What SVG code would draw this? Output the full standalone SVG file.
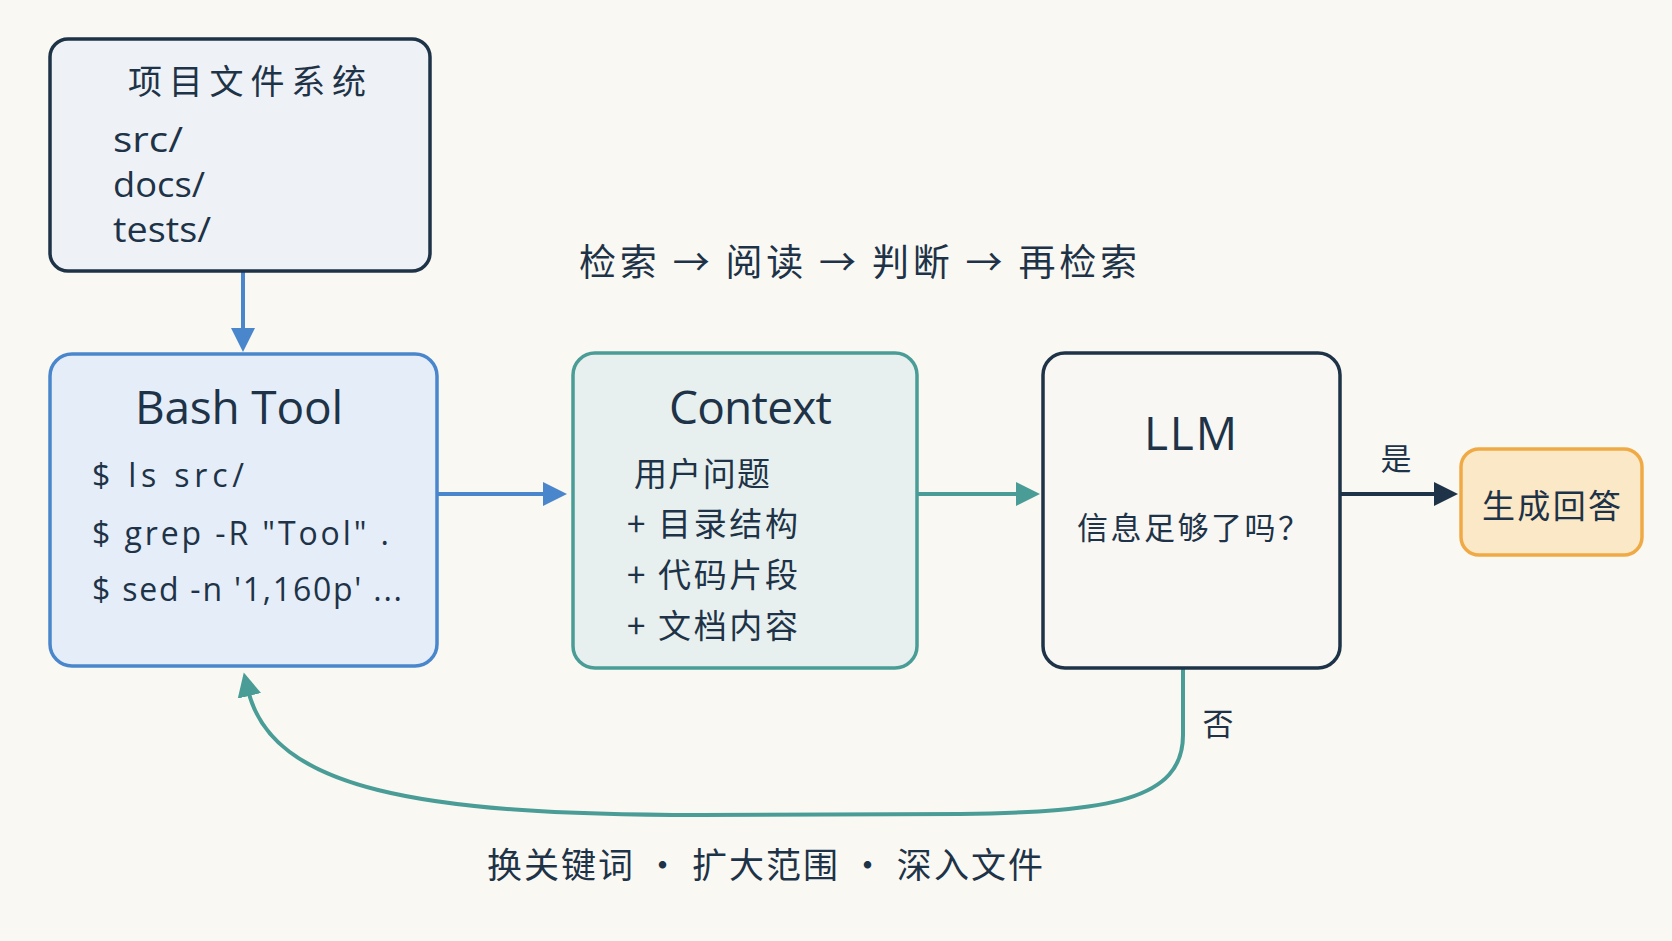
<svg xmlns="http://www.w3.org/2000/svg" width="1672" height="941" viewBox="0 0 1672 941">
<defs>
<style>
.t{fill:#1e3347;font-family:"Open Sans","Noto Sans","Noto Sans CJK SC",sans-serif}
.c{fill:#1e3347;font-family:"Noto Sans CJK SC","Noto Sans",sans-serif;font-weight:400}
.box{stroke-width:3.5}
.ln{fill:none;stroke-width:4}
</style>
<marker id="aBlue" markerUnits="userSpaceOnUse" markerWidth="26" markerHeight="26" refX="6" refY="12" orient="auto"><path d="M0,0 L24,12 L0,24 z" fill="#4a86cc"/></marker>
<marker id="aTeal" markerUnits="userSpaceOnUse" markerWidth="26" markerHeight="26" refX="6" refY="12" orient="auto"><path d="M0,0 L24,12 L0,24 z" fill="#4a9c96"/></marker>
<marker id="aNavy" markerUnits="userSpaceOnUse" markerWidth="26" markerHeight="26" refX="6" refY="12" orient="auto"><path d="M0,0 L24,12 L0,24 z" fill="#1e3347"/></marker>
</defs>
<rect width="1672" height="941" fill="#faf8f3"/>

<g id="connectors">
<line class="ln" x1="243" y1="271" x2="243" y2="334" stroke="#4a86cc" marker-end="url(#aBlue)"/>
<line class="ln" x1="437" y1="494" x2="549" y2="494" stroke="#4a86cc" marker-end="url(#aBlue)"/>
<line class="ln" x1="917" y1="494" x2="1022" y2="494" stroke="#4a9c96" marker-end="url(#aTeal)"/>
<line class="ln" x1="1340" y1="494" x2="1440" y2="494" stroke="#1e3347" marker-end="url(#aNavy)"/>
<path class="ln" d="M1183 668 V735 C1183 800 1110 812 960 814 L700 815 C420 815 272 790 248 690" stroke="#4a9c96" marker-end="url(#aTeal)"/>
<text class="c" x="1396" y="470" font-size="31" text-anchor="middle">是</text>
<text class="c" x="1218" y="735" font-size="31" text-anchor="middle">否</text>
</g>

<g id="label-top">
<text class="c" x="579" y="276" font-size="37" textLength="558" lengthAdjust="spacing">检索 → 阅读 → 判断 → 再检索</text>
</g>
<g id="label-bottom">
<text class="c" x="487" y="878" font-size="35" textLength="556" lengthAdjust="spacing">换关键词 · 扩大范围 · 深入文件</text>
</g>

<g id="node-fs">
<rect class="box" x="50" y="39" width="380" height="232" rx="18" fill="#eef2f6" stroke="#1e3347"/>
<text class="c" x="128" y="94" font-size="34" textLength="238" lengthAdjust="spacing">项目文件系统</text>
<text class="t" x="113" y="152" font-size="35" textLength="70" lengthAdjust="spacingAndGlyphs">src/</text>
<text class="t" x="113" y="197" font-size="35" textLength="92" lengthAdjust="spacingAndGlyphs">docs/</text>
<text class="t" x="113" y="242" font-size="35" textLength="98" lengthAdjust="spacingAndGlyphs">tests/</text>
</g>

<g id="node-bash">
<rect class="box" x="50" y="354" width="387" height="312" rx="22" fill="#e4edf8" stroke="#4a86cc"/>
<text class="t" x="135" y="424" font-size="46" textLength="208" lengthAdjust="spacing">Bash Tool</text>
<text class="t" x="92" y="487" font-size="32" textLength="152" lengthAdjust="spacing">$ ls src/</text>
<text class="t" x="92" y="545" font-size="32" textLength="297" lengthAdjust="spacing">$ grep -R "Tool" .</text>
<text class="t" x="92" y="601" font-size="32" textLength="310" lengthAdjust="spacing">$ sed -n '1,160p' ...</text>
</g>

<g id="node-context">
<rect class="box" x="573" y="353" width="344" height="315" rx="22" fill="#e7f0ee" stroke="#4a9c96"/>
<text class="t" x="669" y="424" font-size="46" textLength="163" lengthAdjust="spacing">Context</text>
<text class="c" x="634" y="486" font-size="33" textLength="136" lengthAdjust="spacing">用户问题</text>
<text class="c" x="627" y="536" font-size="33" textLength="171" lengthAdjust="spacing">+ 目录结构</text>
<text class="c" x="627" y="587" font-size="33" textLength="171" lengthAdjust="spacing">+ 代码片段</text>
<text class="c" x="627" y="638" font-size="33" textLength="171" lengthAdjust="spacing">+ 文档内容</text>
</g>

<g id="node-llm">
<rect class="box" x="1043" y="353" width="297" height="315" rx="22" fill="#f8f7f3" stroke="#1e3347"/>
<text class="t" x="1144" y="450" font-size="46" textLength="93" lengthAdjust="spacing">LLM</text>
<text class="c" x="1077" y="539" font-size="31" textLength="232" lengthAdjust="spacing">信息足够了吗？</text>
</g>

<g id="node-answer">
<rect class="box" x="1461" y="449" width="181" height="106" rx="18" fill="#fbe8c6" stroke="#f0aa45"/>
<text class="c" x="1482" y="518" font-size="33" textLength="139" lengthAdjust="spacing">生成回答</text>
</g>
</svg>
